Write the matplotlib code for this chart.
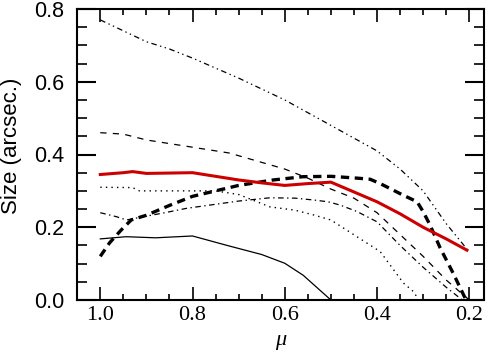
import matplotlib
matplotlib.use("Agg")
import matplotlib.pyplot as plt
from matplotlib.ticker import MultipleLocator

# ---- data ----
x_top = [1.0, 0.95, 0.9, 0.85, 0.8, 0.7, 0.6, 0.5, 0.4, 0.35, 0.3, 0.25, 0.205]
y_top = [0.77, 0.74, 0.71, 0.69, 0.665, 0.61, 0.55, 0.48, 0.41, 0.36, 0.30, 0.21, 0.14]

x_thin_dash = [1.0, 0.95, 0.9, 0.85, 0.8, 0.72, 0.6, 0.55, 0.5, 0.45, 0.4, 0.35, 0.3, 0.25, 0.2]
y_thin_dash = [0.46, 0.456, 0.44, 0.43, 0.42, 0.404, 0.36, 0.335, 0.305, 0.28, 0.24, 0.18, 0.12, 0.055, 0.0]

x_red = [1.0, 0.95, 0.93, 0.9, 0.8, 0.75, 0.7, 0.65, 0.6, 0.55, 0.5, 0.45, 0.4, 0.35, 0.3, 0.25, 0.205]
y_red = [0.345, 0.35, 0.353, 0.348, 0.35, 0.34, 0.33, 0.322, 0.315, 0.32, 0.324, 0.297, 0.27, 0.237, 0.2, 0.168, 0.137]

x_thick = [1.0, 0.98, 0.955, 0.933, 0.9, 0.85, 0.8, 0.75, 0.7, 0.625, 0.56, 0.5, 0.443, 0.415, 0.393, 0.343, 0.313, 0.3, 0.285, 0.263, 0.235, 0.21, 0.205]
y_thick = [0.12, 0.157, 0.192, 0.22, 0.233, 0.26, 0.285, 0.3, 0.315, 0.33, 0.339, 0.34, 0.335, 0.332, 0.32, 0.288, 0.27, 0.243, 0.206, 0.143, 0.074, 0.008, 0.0]

x_dotted = [1.0, 0.93, 0.915, 0.8, 0.75, 0.7, 0.632, 0.578, 0.538, 0.5, 0.473, 0.393, 0.343, 0.32, 0.31]
y_dotted = [0.31, 0.309, 0.30, 0.30, 0.30, 0.29, 0.256, 0.247, 0.234, 0.22, 0.198, 0.133, 0.047, 0.022, 0.0]

x_dashdot = [1.0, 0.965, 0.943, 0.907, 0.864, 0.813, 0.7, 0.632, 0.578, 0.538, 0.506, 0.48, 0.443, 0.4, 0.35, 0.3, 0.25, 0.215]
y_dashdot = [0.24, 0.229, 0.22, 0.229, 0.239, 0.252, 0.272, 0.281, 0.28, 0.275, 0.27, 0.261, 0.243, 0.215, 0.15, 0.09, 0.035, 0.0]

x_solid = [1.0, 0.944, 0.88, 0.8, 0.725, 0.65, 0.6, 0.56, 0.5]
y_solid = [0.168, 0.174, 0.171, 0.176, 0.15, 0.125, 0.101, 0.068, 0.0]

x_ticks = [1.0, 0.8, 0.6, 0.4, 0.2]
x_ticklabels = ["1.0", "0.8", "0.6", "0.4", "0.2"]
y_ticks = [0.0, 0.2, 0.4, 0.6, 0.8]
y_ticklabels = ["0.0", "0.2", "0.4", "0.6", "0.8"]

plt.rcParams['lines.scale_dashes'] = False

fig = plt.figure(figsize=(4.94, 3.52), dpi=100)
ax = fig.add_axes([77/494, 1 - 300/352, (484 - 77)/494, (300 - 9)/352])

ax.plot(x_top, y_top, color='black', lw=0.9, dashes=(4, 2.5, 1, 2.5, 1, 2.5))
ax.plot(x_thin_dash, y_thin_dash, color='black', lw=0.9, dashes=(4.5, 4.5))
ax.plot(x_dotted, y_dotted, color='black', lw=1.0, dashes=(1, 3))
ax.plot(x_dashdot, y_dashdot, color='black', lw=0.9, dashes=(4, 2.5, 1, 2.5))
ax.plot(x_solid, y_solid, color='black', lw=0.9)
ax.plot(x_thick, y_thick, color='black', lw=2.4, dashes=(6, 4))
ax.plot(x_red, y_red, color='#cc0000', lw=2.2)

ax.set_xlim(1.0505, 0.168)
ax.set_ylim(0, 0.8)

ax.set_xticks(x_ticks)
ax.set_xticklabels(x_ticklabels, family='Liberation Serif', fontsize=16)
ax.set_yticks(y_ticks)
ax.set_yticklabels(y_ticklabels, family='Liberation Sans', fontsize=15.5)
ax.xaxis.set_minor_locator(MultipleLocator(0.05))
ax.yaxis.set_minor_locator(MultipleLocator(0.05))

ax.tick_params(axis='x', which='major', direction='in', length=9.5, width=1.2, top=True, pad=4)
ax.tick_params(axis='x', which='minor', direction='in', length=4.3, width=1.2, top=True)
ax.tick_params(axis='y', which='major', direction='in', length=14, width=1.5, right=True, pad=9)
ax.tick_params(axis='y', which='minor', direction='in', length=7, width=1.2, right=True)
for s in ax.spines.values():
    s.set_linewidth(1.5)

ax.set_xlabel('μ', family='Liberation Serif', style='italic', fontsize=16)
ax.xaxis.set_label_coords(0.5, -0.105)
ax.xaxis.label.set_va('top')
ax.set_ylabel('Size (arcsec.)', family='Liberation Sans', fontsize=16)
ax.yaxis.set_label_coords(-0.135, 0.53)

fig.savefig('out.png', dpi=100)
